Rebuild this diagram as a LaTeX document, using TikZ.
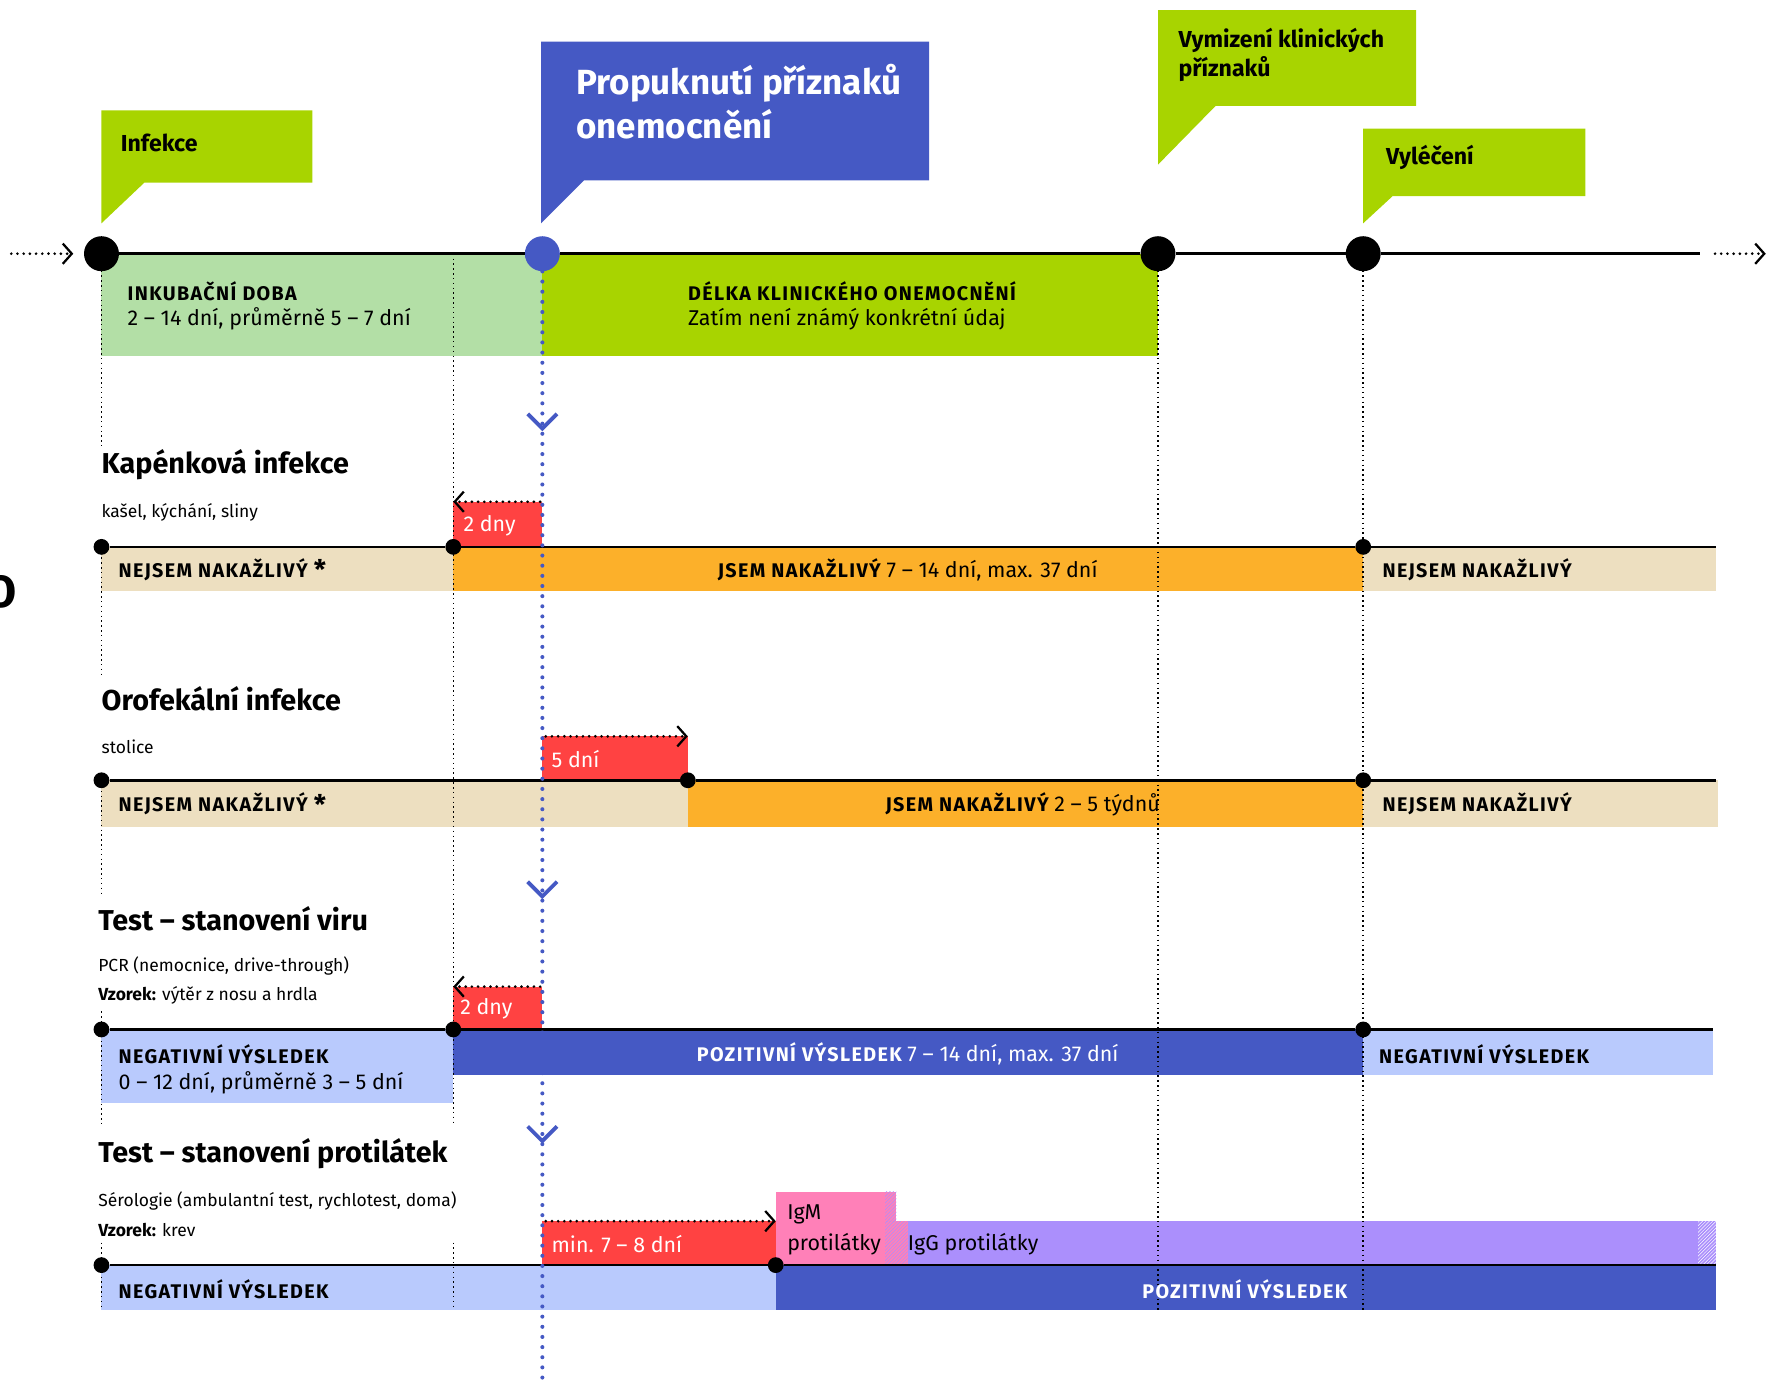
\documentclass[tikz,border=0pt]{standalone}
\usepackage{fontspec}
\setmainfont{Fira Sans}
\newfontfamily\prolozene[LetterSpace=7]{Fira Sans}
\usepackage{tikz}
\usetikzlibrary{arrows.meta, patterns}

\definecolor{limetka}{HTML}{A8D400}
\definecolor{svetlezelena}{HTML}{B3DFA6}
\definecolor{modra}{HTML}{4559C4}
\definecolor{svetlemodra}{HTML}{B9CAFD}
\definecolor{cervena}{HTML}{FF4242}
\definecolor{oranzova}{HTML}{FCB02A}
\definecolor{bezova}{HTML}{EDDFC0}
\definecolor{ruzova}{HTML}{FF80B8}
\definecolor{fialova}{HTML}{AB8FFC}

\newcommand{\kapitalky}[1]{{\prolozene\bfseries\fontsize{17.5}{20}\selectfont #1}}
\newcommand{\hvezda}{\raisebox{-0.25ex}{\fontsize{24}{24}\selectfont *}}

\begin{document}
\begin{tikzpicture}[x=1pt, y=-1pt]
        \useasboundingbox (0,0) rectangle (1568,1225);

        % Styly.
        \tikzstyle{kruh} = [circle, fill=black, inner sep=0pt, minimum size=31pt]
        \tikzstyle{bod} = [circle, fill=black, inner sep=0pt, minimum size=14pt]
        \tikzstyle{osa} = [line width=2.4pt]
        \tikzstyle{tecky} = [line width=2.6pt, line cap=round, dash pattern=on 0pt off 5.5pt]
        \tikzstyle{sipka} = [tecky, -{Straight Barb[length=8pt, width=18pt, line width=2pt]}]
        \tikzstyle{vodici} = [line width=1.3pt, dash pattern=on 1.3pt off 3pt]
        \tikzstyle{modracara} = [modra, line width=3.6pt, line cap=round, dash pattern=on 0pt off 9pt]
        \tikzstyle{nadpis} = [anchor=west, inner sep=0pt, font=\bfseries\fontsize{25.5}{30}\selectfont]
        \tikzstyle{popis} = [anchor=west, inner sep=0pt, font=\fontsize{15.5}{18}\selectfont]
        \tikzstyle{udaj} = [inner sep=0pt, font=\fontsize{19}{23}\selectfont]
        \tikzstyle{bublina} = [anchor=west, inner sep=0pt, align=left, font=\bfseries\fontsize{20.5}{26}\selectfont]

        % Bubliny nad osou.
        \fill[limetka] (90,98) -| (277,162) -- (128,162) -- (90,198) -- cycle;
        \fill[modra] (480,37) -| (824,160) -- (518,160) -- (480,198) -- cycle;
        \fill[limetka] (1027,9) -| (1256,94) -- (1078,94) -- (1027,146) -- cycle;
        \fill[limetka] (1209,114) -| (1406,174) -- (1235,174) -- (1209,198) -- cycle;

        % Pásy pod osou.
        \fill[svetlezelena] (90,225) rectangle (481,316);
        \fill[limetka] (481,225) rectangle (1027,316);

        % Kapénková infekce.
        \fill[bezova] (90,485) rectangle (402,524);
        \fill[oranzova] (402,485) rectangle (1209,524);
        \fill[bezova] (1209,485) rectangle (1522,524);
        \fill[cervena] (402,445) rectangle (481,485);

        % Orofekální infekce.
        \fill[bezova] (90,692) rectangle (610,733);
        \fill[oranzova] (610,692) rectangle (1209,733);
        \fill[bezova] (1209,692) rectangle (1524,733);
        \fill[cervena] (481,653) rectangle (610,692);

        % Test viru.
        \fill[svetlemodra] (90,913) rectangle (402,978);
        \fill[modra] (402,913) rectangle (1209,953);
        \fill[svetlemodra] (1209,913) rectangle (1519,953);
        \fill[cervena] (402,875) rectangle (481,913);

        % Test protilátek.
        \fill[svetlemodra] (90,1122) rectangle (688,1162);
        \fill[modra] (688,1122) rectangle (1522,1162);
        \fill[cervena] (481,1083) rectangle (688,1122);
        \fill[ruzova] (688,1057) rectangle (795,1122);
        \fill[ruzova] (795,1083) rectangle (805,1122);
        \fill[fialova] (805,1083) rectangle (1522,1122);
        \fill[pattern=north east lines, pattern color=fialova] (785,1057) rectangle (795,1083);
        \fill[pattern=north east lines, pattern color=fialova] (785,1083) rectangle (805,1122);
        \fill[pattern=north east lines, pattern color=white] (1506,1083) rectangle (1522,1122);

        % Svislé vodicí čáry.
        \draw[vodici] (90,240) -- (90,395);
        \draw[vodici] (90,490) -- (90,600);
        \draw[vodici] (90,697) -- (90,792);
        \draw[vodici] (90,897) -- (90,996);
        \draw[vodici] (90,1102) -- (90,1162);
        \draw[vodici] (402,225) -- (402,996);
        \draw[vodici] (402,1102) -- (402,1162);
        \draw[vodici] (1027,240) -- (1027,1162);
        \draw[vodici] (1209,240) -- (1209,1162);

        % Časová osa.
        \node[kruh] (infekce) at (90,225) {};
        \node[kruh, fill=modra] (propuknuti) at (481,225) {};
        \node[kruh] (vymizeni) at (1027,225) {};
        \node[kruh] (vyleceni) at (1209,225) {};
        \coordinate (zacatek) at (10,225);
        \coordinate (pred) at (65,225);
        \coordinate (za) at (1508,225);
        \coordinate (dalsi) at (1521,225);
        \coordinate (konec) at (1566,225);
        \draw[sipka] (zacatek) -- (pred);
        \draw[osa] (infekce) -- (propuknuti) -- (vymizeni) -- (vyleceni) -- (za);
        \draw[sipka] (dalsi) -- (konec);

        % Osy řádků.
        \node[bod] (k0) at (90,485) {};
        \node[bod] (k1) at (402,485) {};
        \node[bod] (k2) at (1209,485) {};
        \coordinate (k3) at (1522,485);
        \draw[osa] (k0) -- (k1) -- (k2) -- (k3);
        \node[bod] (o0) at (90,692) {};
        \node[bod] (o1) at (610,692) {};
        \node[bod] (o2) at (1209,692) {};
        \coordinate (o3) at (1522,692);
        \draw[osa] (o0) -- (o1) -- (o2) -- (o3);
        \node[bod] (v0) at (90,913) {};
        \node[bod] (v1) at (402,913) {};
        \node[bod] (v2) at (1209,913) {};
        \coordinate (v3) at (1519,913);
        \draw[osa] (v0) -- (v1) -- (v2) -- (v3);
        \node[bod] (p0) at (90,1122) {};
        \node[bod] (p1) at (688,1122) {};
        \coordinate (p2) at (1522,1122);
        \draw[osa] (p0) -- (p1) -- (p2);

        % Posuny o dny.
        \coordinate (k-od) at (479,445);
        \coordinate (k-do) at (402,445);
        \coordinate (o-od) at (484,653);
        \coordinate (o-do) at (610,653);
        \coordinate (v-od) at (479,875);
        \coordinate (v-do) at (402,875);
        \coordinate (p-od) at (484,1083);
        \coordinate (p-do) at (688,1083);
        \draw[sipka] (k-od) -- (k-do);
        \draw[sipka] (o-od) -- (o-do);
        \draw[sipka] (v-od) -- (v-do);
        \draw[sipka] (p-od) -- (p-do);

        % Modrá čára propuknutí.
        \coordinate (dno) at (481,1225);
        \draw[modracara] (propuknuti) -- (dno);
        \foreach \y in {375,790,1007}
            \draw[modra, line width=3.4pt] (468,\y-8) -- (481,\y+5) -- (494,\y-8);

        % Texty bublin.
        \node[bublina] (t-infekce) at (107,127) {Infekce};
        \node[bublina, text=white, font=\bfseries\fontsize{31}{39}\selectfont] (t-propuknuti) at (511,90) {Propuknutí příznaků\\onemocnění};
        \node[bublina] (t-vymizeni) at (1045,49) {Vymizení klinických\\příznaků};
        \node[bublina] (t-vyleceni) at (1229,140) {Vyléčení};

        % Texty pásů pod osou.
        \node[udaj, anchor=west] (inkubace) at (113,258) {\kapitalky{INKUBAČNÍ DOBA}};
        \node[udaj, anchor=west] (inkubace-dny) at (113,283) {2 – 14 dní, průměrně 5 – 7 dní};
        \node[udaj, anchor=west] (delka) at (610,258) {\kapitalky{DÉLKA KLINICKÉHO ONEMOCNĚNÍ}};
        \node[udaj, anchor=west] (delka-dny) at (610,283) {Zatím není známý konkrétní údaj};

        % Texty řádků.
        \node[nadpis] (kapenkova) at (90,412) {Kapénková infekce};
        \node[popis] (kapenkova-popis) at (90,454) {kašel, kýchání, sliny};
        \node[udaj, anchor=west] (k-ne) at (105,505) {\kapitalky{NEJSEM NAKAŽLIVÝ \hvezda}};
        \node[udaj] (k-ano) at (805,505) {\kapitalky{JSEM NAKAŽLIVÝ} 7 – 14 dní, max. 37 dní};
        \node[udaj, anchor=west] (k-ne2) at (1226,505) {\kapitalky{NEJSEM NAKAŽLIVÝ}};
        \node[udaj, anchor=west, text=white] (k-dny) at (411,466) {2 dny};

        \node[nadpis] (orofekalni) at (90,620) {Orofekální infekce};
        \node[popis] (orofekalni-popis) at (90,662) {stolice};
        \node[udaj, anchor=west] (o-ne) at (105,713) {\kapitalky{NEJSEM NAKAŽLIVÝ \hvezda}};
        \node[udaj] (o-ano) at (907,713) {\kapitalky{JSEM NAKAŽLIVÝ} 2 – 5 týdnů};
        \node[udaj, anchor=west] (o-ne2) at (1226,713) {\kapitalky{NEJSEM NAKAŽLIVÝ}};
        \node[udaj, anchor=west, text=white] (o-dny) at (489,673) {5 dní};

        \node[nadpis] (virus) at (87,815) {Test – stanovení viru};
        \node[popis] (virus-popis) at (87,857) {PCR (nemocnice, drive-through)};
        \node[popis] (virus-vzorek) at (87,883) {\textbf{Vzorek:} výtěr z nosu a hrdla};
        \node[udaj, anchor=west] (v-neg) at (105,935) {\kapitalky{NEGATIVNÍ VÝSLEDEK}};
        \node[udaj, anchor=west] (v-neg-dny) at (105,960) {0 – 12 dní, průměrně 3 – 5 dní};
        \node[udaj, text=white] (v-poz) at (805,935) {\kapitalky{POZITIVNÍ VÝSLEDEK} 7 – 14 dní, max. 37 dní};
        \node[udaj, anchor=west] (v-neg2) at (1223,935) {\kapitalky{NEGATIVNÍ VÝSLEDEK}};
        \node[udaj, anchor=west, text=white] (v-dny) at (408,895) {2 dny};

        \node[nadpis] (protilatky) at (87,1023) {Test – stanovení protilátek};
        \node[popis] (protilatky-popis) at (87,1065) {Sérologie (ambulantní test, rychlotest, doma)};
        \node[popis] (protilatky-vzorek) at (87,1091) {\textbf{Vzorek:} krev};
        \node[udaj, anchor=west] (p-neg) at (105,1143) {\kapitalky{NEGATIVNÍ VÝSLEDEK}};
        \node[udaj, text=white] (p-poz) at (1104,1143) {\kapitalky{POZITIVNÍ VÝSLEDEK}};
        \node[udaj, anchor=west, text=white] (p-dny) at (489,1103) {min. 7 – 8 dní};
        \node[udaj, anchor=west] (igm) at (698,1077) {IgM};
        \node[udaj, anchor=west] (igm2) at (698,1103) {protilátky};
        \node[udaj, anchor=west] (igg) at (805,1103) {IgG protilátky};

        % Okraj.
        \node[anchor=east, inner sep=0pt, font=\bfseries\fontsize{40}{40}\selectfont] (okraj) at (15,525) {O};
\end{tikzpicture}
\end{document}
